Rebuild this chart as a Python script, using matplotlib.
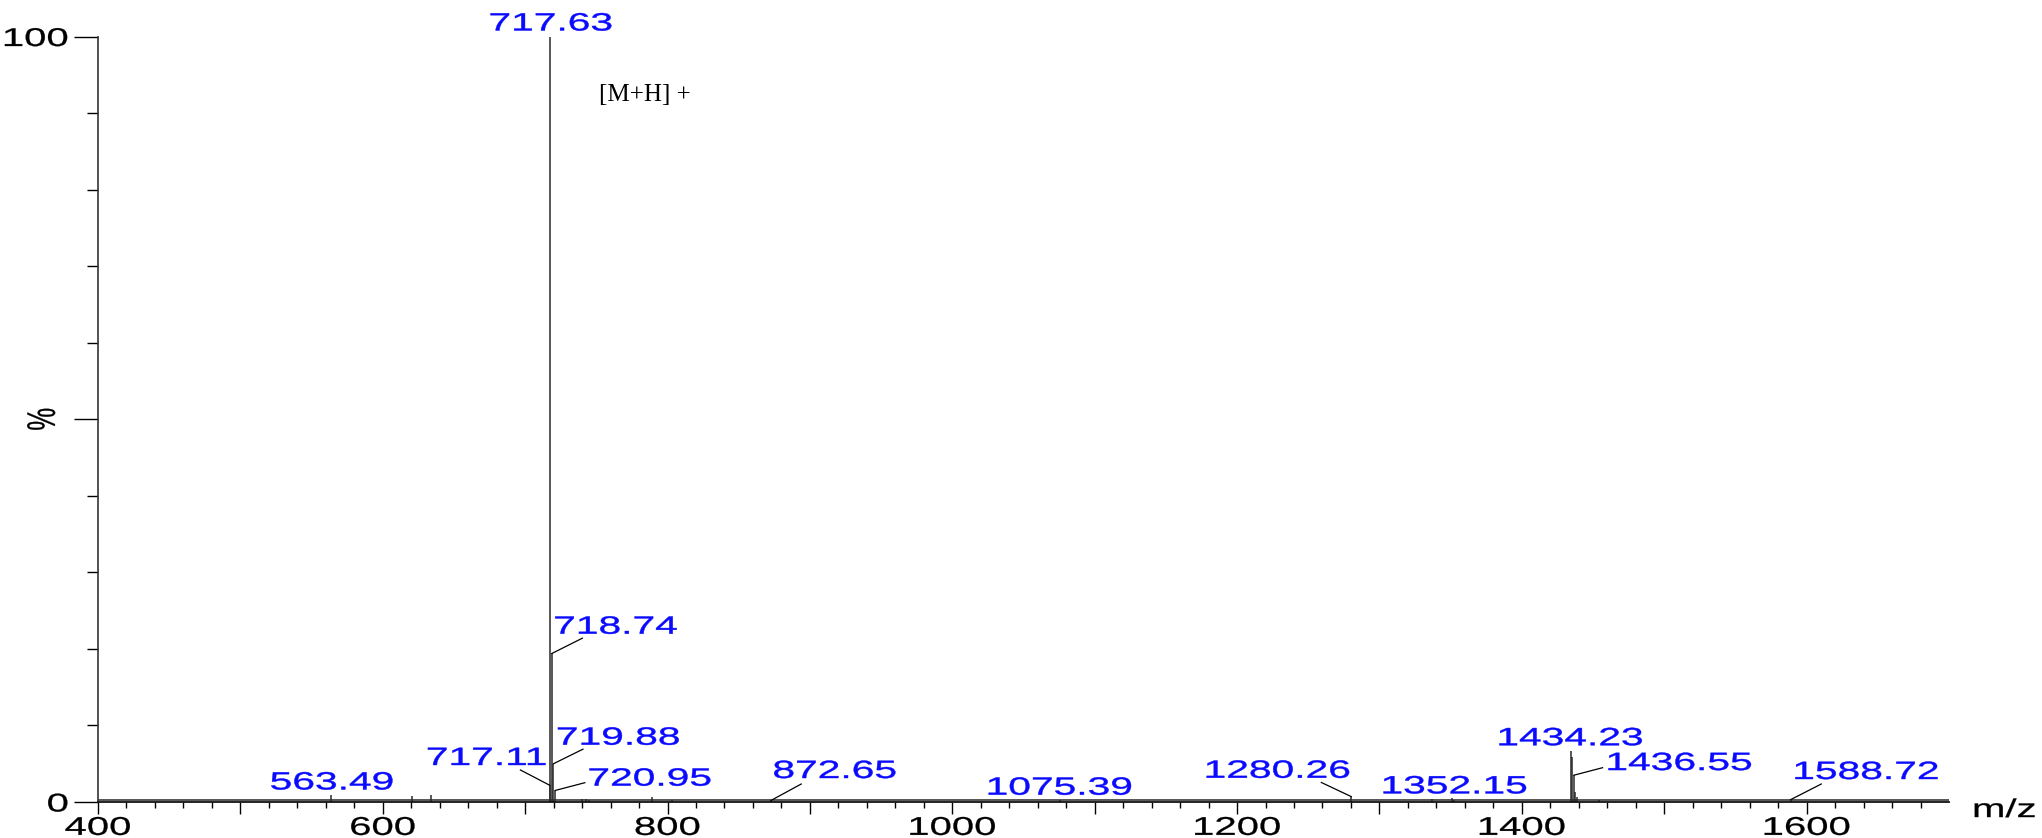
import matplotlib
matplotlib.use("Agg")
import matplotlib.pyplot as plt
from matplotlib.patheffects import AbstractPathEffect
from matplotlib.transforms import Affine2D
from matplotlib.ticker import FixedLocator, FixedFormatter

# ---------------- data ----------------
peak_mz = [563.49, 620.8, 634.2, 717.11, 717.63, 718.74, 719.88, 720.95,
           740.0, 742.5, 745.0, 788.9, 803.0, 872.65, 1075.39, 1280.26,
           1337.0, 1351.0, 1352.15, 1434.23, 1435.3, 1436.55, 1437.5,
           1438.5, 1454.0, 1588.72]
peak_int = [0.9, 0.8, 0.9, 2.2, 100.0, 19.4, 5.0, 1.5,
            0.4, 0.4, 0.3, 0.7, 0.3, 0.2, 0.2, 0.7,
            0.4, 0.5, 0.3, 6.7, 5.9, 3.5, 1.3,
            0.6, 0.3, 0.3]

label_mz = [717.63, 718.74, 719.88, 717.11, 720.95, 563.49, 872.65,
            1075.39, 1280.26, 1352.15, 1434.23, 1436.55, 1588.72]

x_major = [400, 500, 600, 700, 800, 900, 1000, 1100, 1200, 1300, 1400, 1500, 1600]
x_major_labels = ["400", "", "600", "", "800", "", "1000", "", "1200", "", "1400", "", "1600"]
y_major = [0, 50, 100]
y_major_labels = ["0", "", "100"]
annotation_text = "[M+H] +"

# ---------------- layout (label centres, leader ends) ----------------
label_xy = {
    717.63: (718.0, 101.7),
    718.74: (763.6, 22.9),
    719.88: (765.4, 8.4),
    717.11: (672.9, 5.75),
    720.95: (787.5, 3.05),
    563.49: (564.3, 2.55),
    872.65: (917.4, 4.05),
    1075.39: (1075.3, 1.87),
    1280.26: (1228.4, 4.08),
    1352.15: (1352.6, 2.04),
    1434.23: (1434.1, 8.33),
    1436.55: (1510.6, 5.09),
    1588.72: (1641.8, 3.92),
}
leader_end = {
    718.74: (740.2, 21.4),
    719.88: (740.6, 6.9),
    717.11: (696.7, 4.18),
    720.95: (741.9, 2.52),
    872.65: (893.9, 2.35),
    1280.26: (1259.2, 2.55),
    1436.55: (1456.7, 4.48),
    1588.72: (1610.3, 2.35),
}


class HStretch(AbstractPathEffect):
    """Stretch rendered text horizontally (screen x) about an anchor,
    with a thin outline of the same colour to thicken the strokes."""

    def __init__(self, sx=1.8, anchor="center", stroke=0.3):
        super().__init__()
        self.sx = sx
        self.anchor = anchor
        self.stroke = stroke

    def draw_path(self, renderer, gc, tpath, affine, rgbFace=None):
        ext = tpath.get_extents(affine)
        if self.anchor == "left":
            a = ext.x0
        elif self.anchor == "right":
            a = ext.x1
        else:
            a = 0.5 * (ext.x0 + ext.x1)
        t = affine + Affine2D().translate(-a, 0).scale(self.sx, 1.0).translate(a, 0)
        gc0 = renderer.new_gc()
        gc0.copy_properties(gc)
        if rgbFace is not None and self.stroke > 0:
            gc0.set_foreground(rgbFace)
            gc0.set_linewidth(self.stroke)
        renderer.draw_path(gc0, tpath, t, rgbFace)
        gc0.restore()


SX_LAB = 1.63
SX_TICK = 1.56
LAB_FS = 18
TICK_FS = 18.5
FONT = ["Liberation Sans", "DejaVu Sans"]
BLUE = "#0a0aff"

fig = plt.figure(figsize=(20.42, 8.38), dpi=100)
ax = fig.add_axes([0.04799, 0.04296, 0.90646, 0.91348])
ax.set_xlim(400, 1700)
ax.set_ylim(0, 100)

# baseline noise band
ax.axhline(0.2, color="#555555", lw=1.4, zorder=1)
ax.vlines(peak_mz, 0, peak_int, colors="#2a2a2a", lw=1.1, zorder=2)

# peak labels
lookup = dict(zip(peak_mz, peak_int))
for mz in label_mz:
    tx, ty = label_xy[mz]
    t = ax.text(tx, ty, f"{mz:.2f}", color=BLUE, fontsize=LAB_FS, family=FONT,
                ha="center", va="center", clip_on=False, zorder=5)
    t.set_path_effects([HStretch(SX_LAB, "center", 0.3)])
    if mz in leader_end:
        ex, ey = leader_end[mz]
        ax.plot([mz, ex], [lookup[mz], ey], color="black", lw=0.9,
                clip_on=False, zorder=4)

ax.text(751.7, 92.3, annotation_text, fontsize=18, family=["Liberation Serif"],
        ha="left", va="center", color="black")

# spines
for s in ("top", "right"):
    ax.spines[s].set_visible(False)
ax.spines["left"].set_color("#333333")
ax.spines["left"].set_linewidth(1.2)
ax.spines["bottom"].set_color("#111111")
ax.spines["bottom"].set_linewidth(1.3)

# ticks
ax.xaxis.set_major_locator(FixedLocator(x_major))
ax.xaxis.set_major_formatter(FixedFormatter(x_major_labels))
ax.xaxis.set_minor_locator(FixedLocator([v for v in range(400, 1700, 20) if v % 100]))
ax.yaxis.set_major_locator(FixedLocator(y_major))
ax.yaxis.set_major_formatter(FixedFormatter(y_major_labels))
ax.yaxis.set_minor_locator(FixedLocator([v for v in range(10, 100, 10) if v != 50]))

ax.tick_params(axis="x", which="major", length=8.5, width=1.0, pad=1.5,
               labelsize=TICK_FS, direction="out", colors="black")
ax.tick_params(axis="x", which="minor", length=4.3, width=1.0, direction="out")
ax.tick_params(axis="y", which="major", length=17, width=1.0, pad=4.3,
               labelsize=TICK_FS, direction="out", colors="black")
ax.tick_params(axis="y", which="minor", length=8, width=1.0, direction="out")

for lab in ax.get_xticklabels():
    lab.set_family(FONT)
    lab.set_path_effects([HStretch(SX_TICK, "center", 0.2)])
for lab in ax.get_yticklabels():
    lab.set_family(FONT)
    lab.set_path_effects([HStretch(SX_TICK, "right", 0.2)])

# axis labels
ax.set_ylabel("%", fontsize=TICK_FS, family=FONT)
ax.yaxis.set_label_coords((43 - 98) / 1851, 0.5)
ax.yaxis.label.set_va("center")
ax.yaxis.label.set_ha("center")
ax.yaxis.label.set_path_effects([HStretch(SX_TICK, "center", 0.2)])

ax.set_xlabel("m/z", fontsize=TICK_FS, family=FONT)
ax.xaxis.set_label_coords((1973 - 98) / 1851, -0.0105)
ax.xaxis.label.set_ha("left")
ax.xaxis.label.set_va("center")
ax.xaxis.label.set_path_effects([HStretch(SX_TICK, "left", 0.2)])

fig.savefig("out.png", dpi=100)
